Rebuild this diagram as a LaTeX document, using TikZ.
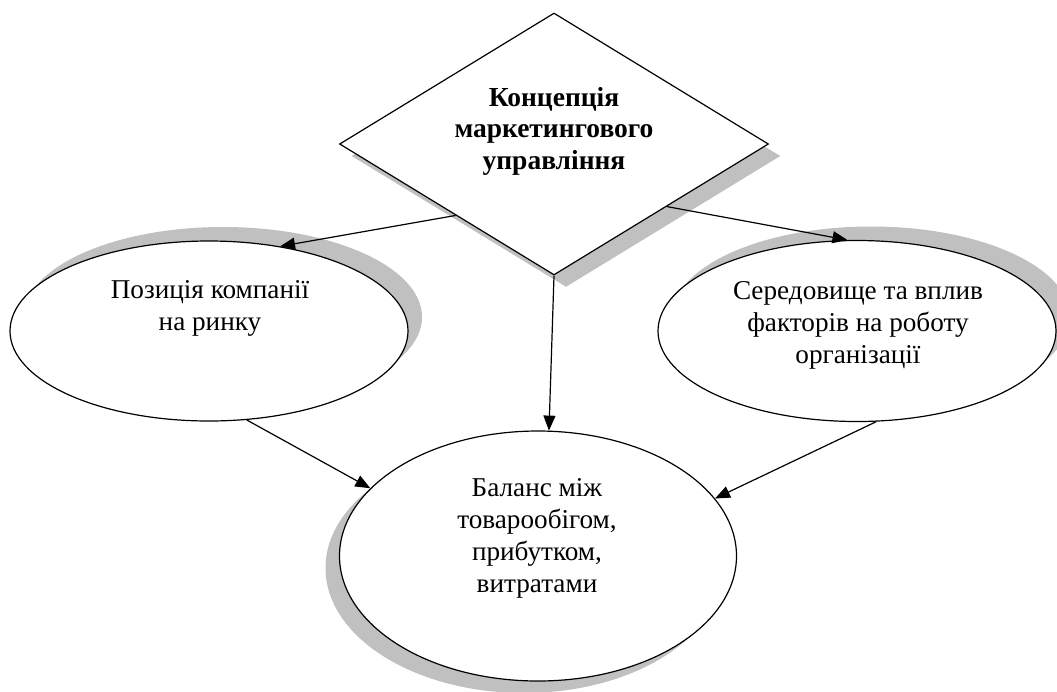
\documentclass[tikz,border=0pt]{standalone}
\usepackage{fontspec}
\setmainfont{Liberation Serif}
\usetikzlibrary{shapes.geometric,shadows,arrows.meta}
\definecolor{shadowgray}{RGB}{192,192,192}
\tikzset{
  base/.style={draw=black, line width=1.2pt, fill=white, inner sep=0pt},
  oval/.style={base, ellipse},
  rhomb/.style={base, diamond, aspect=1.64},
  lbl/.style={align=center, font=\fontsize{27.2}{32}\selectfont, inner sep=0pt},
  arr/.style={line width=1.2pt, -{Triangle[length=15pt,width=12pt]}},
  shUR/.style={drop shadow={shadow xshift=14pt, shadow yshift=14pt, opacity=1, fill=shadowgray}},
  shDR/.style={drop shadow={shadow xshift=12pt, shadow yshift=-12pt, opacity=1, fill=shadowgray}},
  shDL/.style={drop shadow={shadow xshift=-14pt, shadow yshift=-12pt, opacity=1, fill=shadowgray}}
}
\begin{document}
\begin{tikzpicture}[x=1pt, y=-1pt]
\useasboundingbox[fill=white] (0,0) rectangle (1057,691);
% shapes
\node[oval, shUR, minimum width=398pt, minimum height=180pt] (L) at (209,331) {};
\node[oval, shUR, minimum width=398pt, minimum height=181pt] (R) at (857,331) {};
\node[oval, shDL, minimum width=397pt, minimum height=250pt] (B) at (538,556) {};
\node[rhomb, shDR, minimum width=429pt, minimum height=262pt] (D) at (554,144) {};
% texts
\node[lbl, font=\fontsize{27.5}{31.5}\selectfont\bfseries] (Dt) at (554,131) {Концепція\\маркетингового\\управління};
\node[lbl] (Lt) at (210,308) {Позиція компанії\\на ринку};
\node[lbl] (Rt) at (858,325) {Середовище та вплив\\факторів на роботу\\організації};
\node[lbl] (Bt) at (537,538) {Баланс між\\товарообігом,\\прибутком,\\витратами};
% connectors
\draw[arr] (D.216) -- (L.50);
\draw[arr] (D.331) -- (R.96);
\draw[arr] (D.south) -- (B.85);
\draw[arr] (L.293) -- (B.158);
\draw[arr] (R.282) -- (B.18);
\end{tikzpicture}
\end{document}
